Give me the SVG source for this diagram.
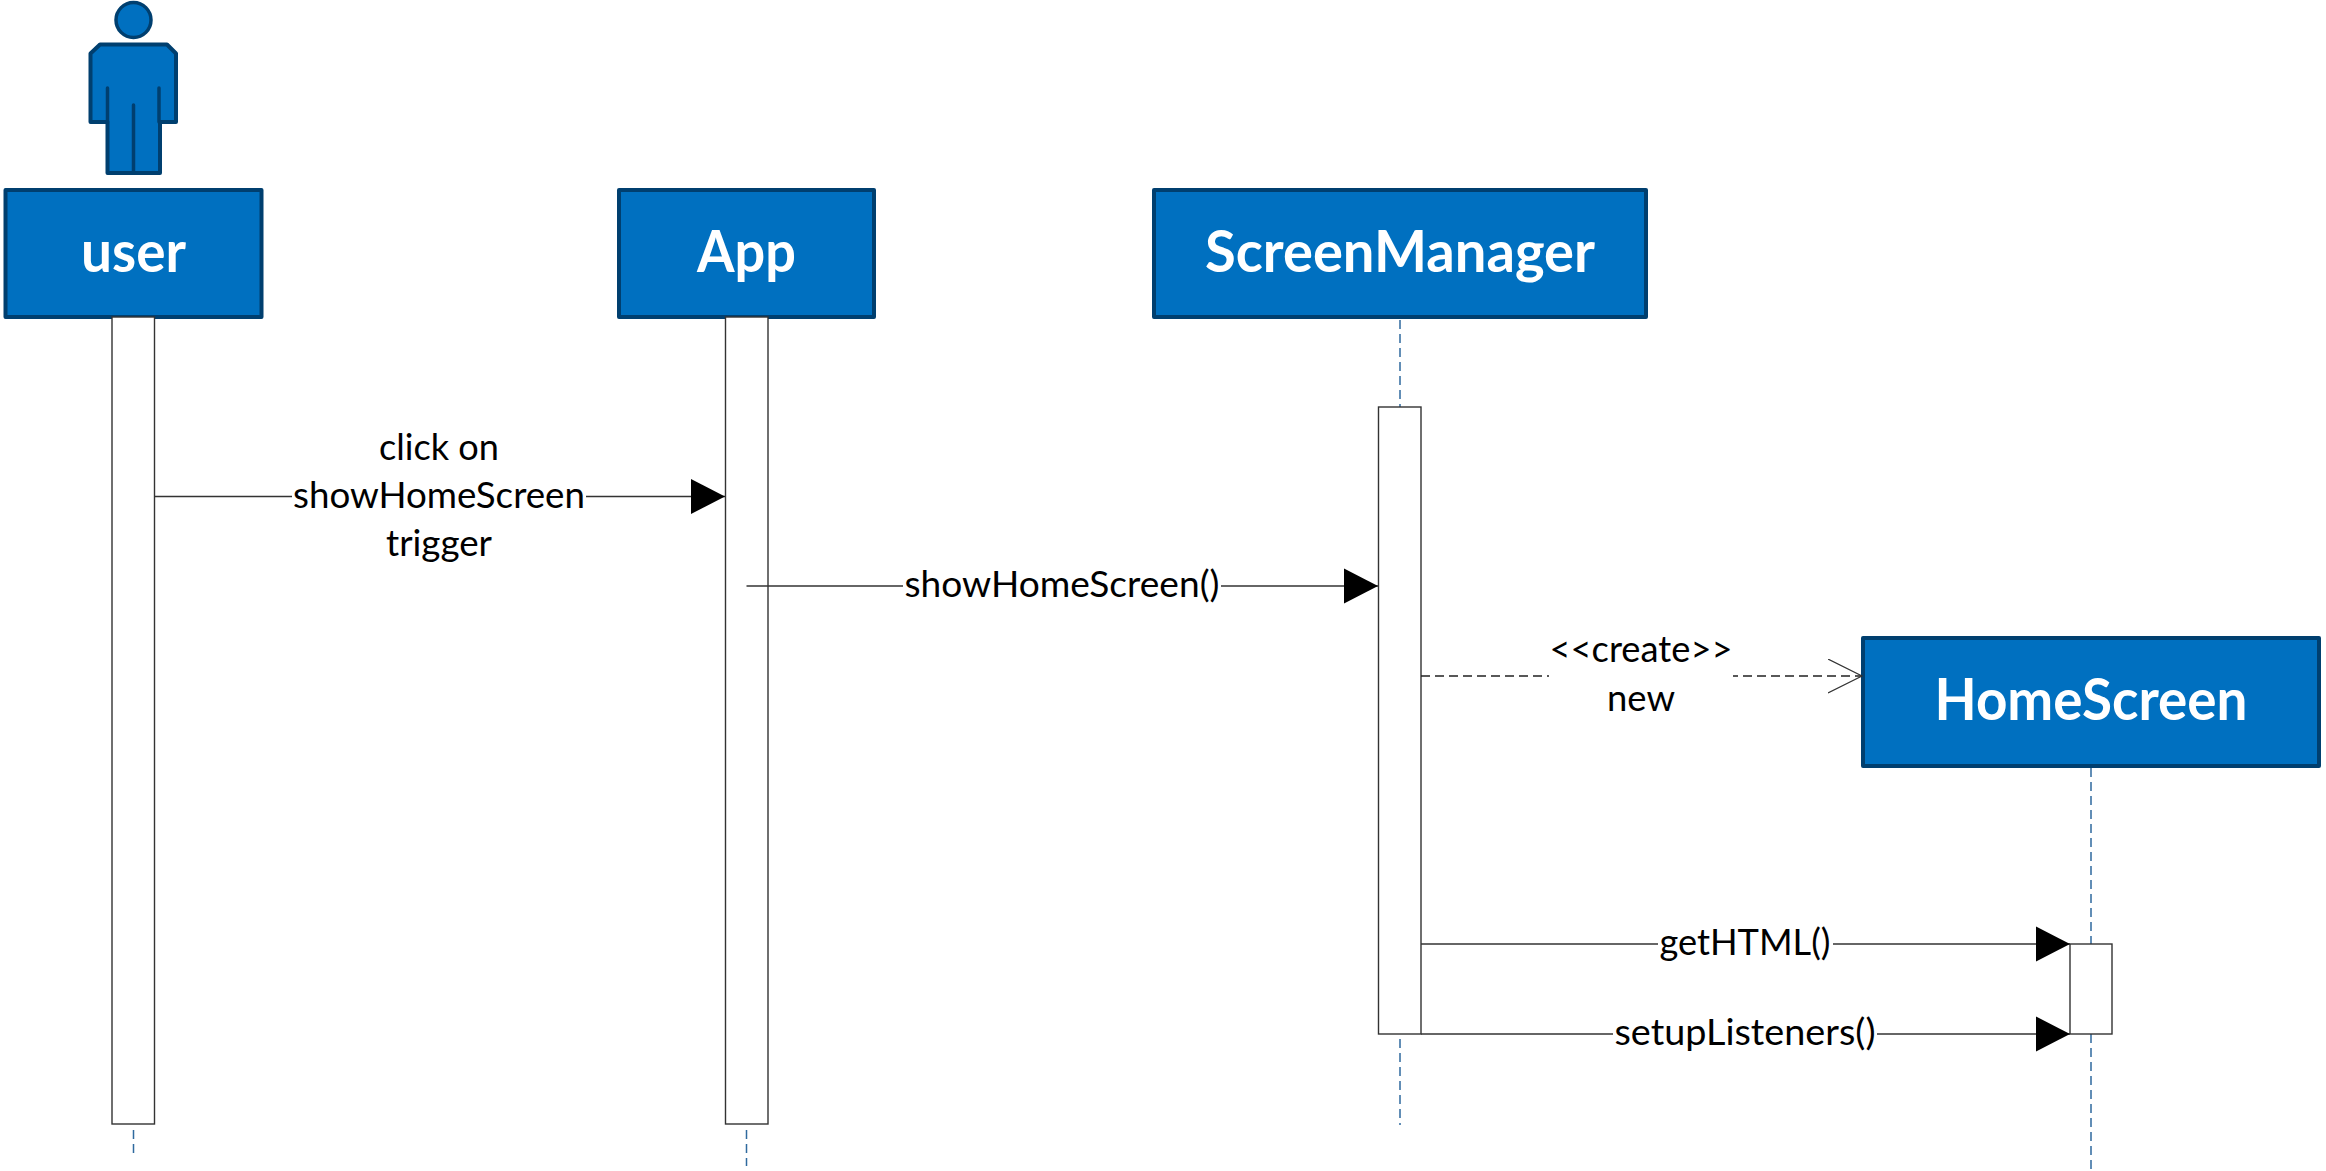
<svg xmlns="http://www.w3.org/2000/svg" width="2326" height="1171" viewBox="0 0 2326 1171">
<style>
.box{fill:#0070C0;stroke:#003F6F;stroke-width:4;stroke-linejoin:round}
.name{font-family:"Lato","Open Sans",sans-serif;font-weight:700;font-size:58px;fill:#fff;text-anchor:middle}
.lbl{font-family:"Lato","Open Sans",sans-serif;font-size:37px;fill:#000;text-anchor:middle}
.act{fill:#fff;stroke:#333;stroke-width:1.4}
.life{stroke:#2F6A9E;stroke-width:1.5;stroke-dasharray:9 5;fill:none}
.msg{stroke:#333;stroke-width:1.4;fill:none}
.dash{stroke:#222;stroke-width:1.4;stroke-dasharray:9 5;fill:none}
.gap{fill:#fff}
</style>
<defs>
<marker id="solid" markerUnits="userSpaceOnUse" markerWidth="36" markerHeight="38" refX="34" refY="18.5" orient="auto"><path d="M0 1L34 18.5L0 36Z" fill="#000"/></marker>
<marker id="open" markerUnits="userSpaceOnUse" markerWidth="36" markerHeight="36" refX="34" refY="17.5" orient="auto"><path d="M0 0.5L34 17.5L0 34.5" fill="none" stroke="#333" stroke-width="1.2"/></marker>
</defs>
<g id="lifelines">
<line class="life" x1="133.5" y1="1130" x2="133.5" y2="1158"/>
<line class="life" x1="746.5" y1="1130" x2="746.5" y2="1166"/>
<line class="life" x1="1400" y1="320" x2="1400" y2="407"/>
<line class="life" x1="1400" y1="1039" x2="1400" y2="1125"/>
<line class="life" x1="2091" y1="768" x2="2091" y2="1171"/>
</g>
<g id="actor-figure">
<circle cx="133.5" cy="20" r="17.5" fill="#0070C0" stroke="#003F6F" stroke-width="3.5"/>
<path class="box" d="M100 44.5H167L176 53.5V122H160V173H107.500V122H90.500V53.500Z"/>
<path d="M107.500 88V122M159 88V122M133.500 105V173" fill="none" stroke="#003F6F" stroke-width="3.500" stroke-linecap="round"/>
</g>
<g id="user"><rect class="box" x="5.500" y="190" width="256" height="127"/><text class="name" x="133.500" y="272" textLength="105" lengthAdjust="spacingAndGlyphs">user</text></g>
<g id="app"><rect class="box" x="619" y="190" width="255" height="127"/><text class="name" x="746.500" y="272" textLength="99" lengthAdjust="spacingAndGlyphs">App</text></g>
<g id="screen-manager"><rect class="box" x="1154" y="190" width="492" height="127"/><text class="name" x="1400" y="272" textLength="390" lengthAdjust="spacingAndGlyphs">ScreenManager</text></g>
<g id="home-screen"><rect class="box" x="1863" y="638" width="456" height="128"/><text class="name" x="2091" y="720" textLength="313" lengthAdjust="spacingAndGlyphs">HomeScreen</text></g>
<g id="activations">
<rect class="act" x="112" y="317" width="42.500" height="807"/>
<rect class="act" x="725.500" y="317" width="42.500" height="807"/>
<rect class="act" x="1378.500" y="407" width="42.500" height="627"/>
<rect class="act" x="2070" y="944" width="42" height="90"/>
</g>
<g id="connectors">
<line class="msg" x1="154.500" y1="496.500" x2="725" y2="496.500" marker-end="url(#solid)"/>
<line class="msg" x1="746.500" y1="586" x2="1378" y2="586" marker-end="url(#solid)"/>
<line class="dash" x1="1421" y1="676" x2="1862" y2="676" marker-end="url(#open)"/>
<line class="msg" x1="1421" y1="944" x2="2070" y2="944" marker-end="url(#solid)"/>
<line class="msg" x1="1421" y1="1034" x2="2070" y2="1034" marker-end="url(#solid)"/>
</g>
<g id="labels">
<rect class="gap" x="292" y="480" width="294" height="34"/>
<text class="lbl" x="439" y="460" textLength="120" lengthAdjust="spacingAndGlyphs">click on</text>
<text class="lbl" x="439" y="508" textLength="292" lengthAdjust="spacingAndGlyphs">showHomeScreen</text>
<text class="lbl" x="439" y="556" textLength="106" lengthAdjust="spacingAndGlyphs">trigger</text>
<rect class="gap" x="903" y="570" width="318" height="34"/>
<text class="lbl" x="1062" y="597" textLength="315" lengthAdjust="spacingAndGlyphs">showHomeScreen()</text>
<rect class="gap" x="1549" y="640" width="184" height="80"/>
<text class="lbl" x="1641" y="662" textLength="183" lengthAdjust="spacingAndGlyphs">&lt;&lt;create&gt;&gt;</text>
<text class="lbl" x="1641" y="711" textLength="68" lengthAdjust="spacingAndGlyphs">new</text>
<rect class="gap" x="1658" y="927" width="175" height="34"/>
<text class="lbl" x="1745" y="955" textLength="171" lengthAdjust="spacingAndGlyphs">getHTML()</text>
<rect class="gap" x="1613" y="1017" width="264" height="34"/>
<text class="lbl" x="1745" y="1045" textLength="261" lengthAdjust="spacingAndGlyphs">setupListeners()</text>
</g>
</svg>
